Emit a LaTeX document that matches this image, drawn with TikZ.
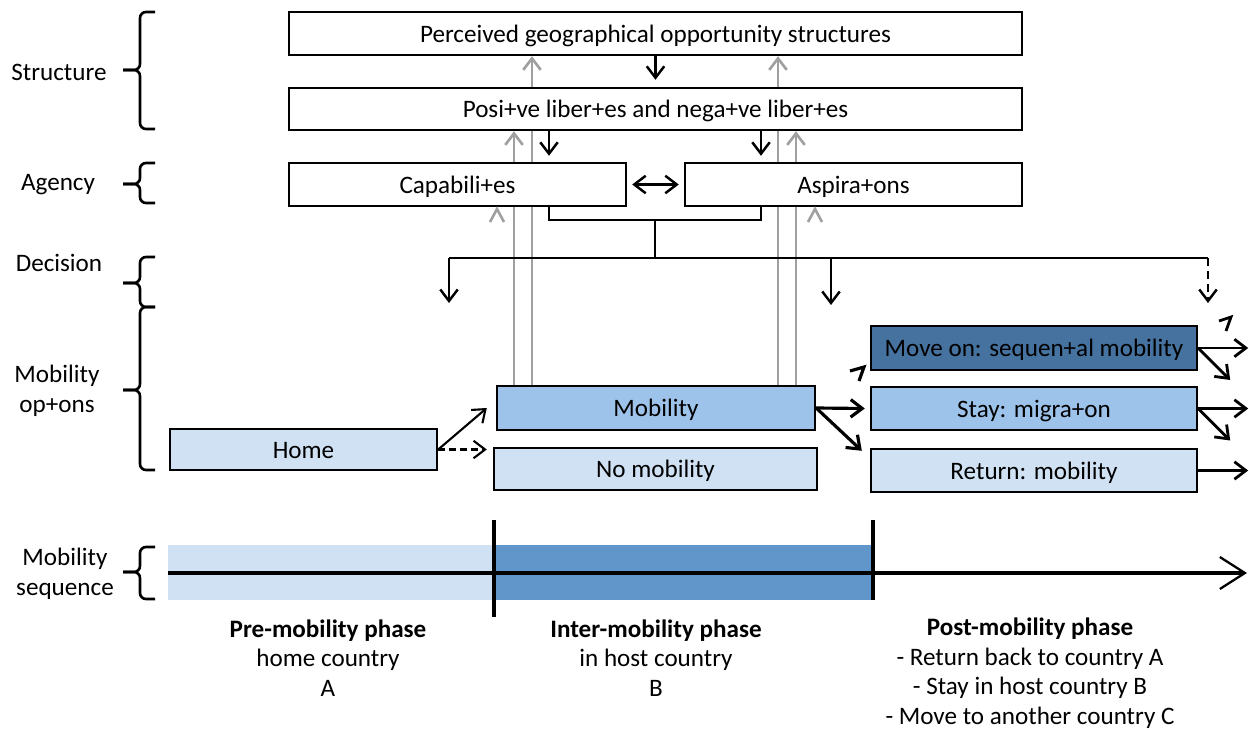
\documentclass[tikz,border=0pt]{standalone}
\usepackage{fontspec}
\setmainfont{Carlito}
\usetikzlibrary{arrows.meta,calc,backgrounds}

\definecolor{paleblue}{HTML}{D0E1F3}
\definecolor{midblue}{HTML}{9DC3EA}
\definecolor{deepblue}{HTML}{45729F}
\definecolor{barblue}{HTML}{6096C9}
\definecolor{greyline}{HTML}{A0A0A0}

\begin{document}
\begin{tikzpicture}
        [%%%%%%%%%%%%%%%%%%%%%%%%%%%%%%
            x=0.02cm, y=-0.02cm,
            font=\fontsize{14.3}{16.8}\selectfont,
            >={Straight Barb[length=2.3mm,width=3.5mm]},
            box/.style={draw=black, line width=1.4pt, fill=white, inner sep=0pt, minimum height=0.86cm, text height=10pt, text depth=0pt},
            link/.style={line width=1.4pt, ->},
            back/.style={draw=greyline, line width=1.5pt, ->},
            brc/.style={line width=1.5pt, rounded corners=0.12cm},
        ]%%%%%%%%%%%%%%%%%%%%%%%%%%%%%%

        \useasboundingbox (0,0) rectangle (1249,730);

        % left hand labels and their braces
        \node (lstruct) at (59,72) {Structure};
        \node (lagency) at (58,185) {Agency};
        \node (ldecision) at (59,263) {Decision};
        \node[align=center] (loptions) at (57,391) {Mobility\\op+ons};
        \node[align=center] (lsequence) at (65,574) {Mobility\\sequence};
        \foreach \ya/\ym/\yb in {12/70/129, 163/184/203, 257/283/307, 307/390/470, 547/572/599}{
            \draw[brc] (155,\ya) -- (140,\ya) -- (140,\ym) -- (123,\ym);
            \draw[brc] (155,\yb) -- (140,\yb) -- (140,\ym) -- (123,\ym);
        }

        % structure and agency
        \node[box, minimum width=14.66cm] (percv) at (655.5,33.5) {Perceived geographical opportunity structures};
        \node[box, minimum width=14.66cm, minimum height=0.84cm] (libs) at (655.5,109) {Posi+ve liber+es and nega+ve liber+es};
        \node[box, minimum width=6.74cm] (capab) at (457.5,184.5) {Capabili+es};
        \node[box, minimum width=6.74cm] (aspir) at (853.5,184.5) {Aspira+ons};

        % mobility options
        \node[box, fill=paleblue, minimum width=5.34cm, minimum height=0.82cm] (home) at (303.5,449.5) {Home};
        \node[box, fill=midblue, minimum width=6.36cm, minimum height=0.88cm] (mob) at (656,408) {Mobility};
        \node[box, fill=paleblue, minimum width=6.46cm, minimum height=0.84cm] (nomob) at (655.5,469) {No mobility};
        \node[box, fill=deepblue, minimum width=6.52cm, minimum height=0.88cm] (moveon) at (1034,348) {Move on: sequen+al mobility};
        \node[box, fill=midblue, minimum width=6.52cm] (stay) at (1034,408.5) {Stay: migra+on};
        \node[box, fill=paleblue, minimum width=6.52cm] (ret) at (1034,470.5) {Return: mobility};

        % feedback from mobility, hidden behind the boxes
        \coordinate (ga) at (514,0);
        \coordinate (gb) at (532,0);
        \coordinate (gc) at (778,0);
        \coordinate (gd) at (796,0);
        \begin{scope}[on background layer]
            \draw[back] (ga |- mob.north) -- (ga |- libs.south);
            \draw[back] (gb |- mob.north) -- (gb |- percv.south);
            \draw[back] (gc |- mob.north) -- (gc |- percv.south);
            \draw[back] (gd |- mob.north) -- (gd |- libs.south);
        \end{scope}
        \draw[greyline, line width=1.5pt] (490,222) -- (497,209) -- (504,222);
        \draw[greyline, line width=1.5pt] (808,222) -- (815,209) -- (822,222);

        % structure -> agency
        \coordinate (cl) at (549,0);
        \coordinate (cr) at (761,0);
        \draw[link, shorten >=0.14cm] (percv.south) -- (libs.north);
        \draw[link, shorten >=0.12cm] (cl |- libs.south) -- (cl |- capab.north);
        \draw[link, shorten >=0.12cm] (cr |- libs.south) -- (cr |- aspir.north);
        \draw[link, <->, shorten <=0.1cm, shorten >=0.1cm] (capab) -- (aspir);

        % decision
        \coordinate (jn) at (655,220);
        \coordinate (dec) at (655,258);
        \coordinate (dl) at (449,258);
        \coordinate (dm) at (831,258);
        \coordinate (dr) at (1208,258);
        \coordinate (ol) at (449,303);
        \coordinate (om) at (831,305);
        \coordinate (or) at (1208,303);
        \draw[line width=1.4pt] (cl |- capab.south) |- (jn) -| (cr |- aspir.south);
        \draw[line width=1.4pt] (jn) -- (dec);
        \draw[line width=1.4pt] (dl) -- (dr);
        \draw[link] (dl) -- (ol);
        \draw[link] (dm) -- (om);
        \draw[link, dash pattern=on 0.16cm off 0.1cm] (dr) -- (or);

        % options
        \draw[link, line width=1.2pt] (home.east) -- ($(mob.west)+(-9,0)$);
        \draw[link, line width=1.2pt, dash pattern=on 0.14cm off 0.08cm] (home.east) -- ($(home.east -| nomob.west)+(-6,0)$);
        \draw[link, line width=1.8pt] (mob.east) -- ($(stay.west)+(-5,0)$);
        \draw[link, line width=1.8pt] (mob.east) -- ($(ret.north west)+(-8,3)$);
        \draw[line width=1.8pt] (850,371) -- (864,367) -- (859,381);
        \foreach \b in {moveon,stay,ret}{
            \coordinate (\b out) at ($(\b.east)+(50,0)$);
            \draw[link, line width=1.6pt] (\b.east) -- (\b out);
        }
        \coordinate (moveondn) at ($(moveon.east)+(32,32)$);
        \coordinate (staydn) at ($(stay.east)+(32,32)$);
        \draw[link, line width=1.6pt] (moveon.east) -- (moveondn);
        \draw[link, line width=1.6pt] (stay.east) -- (staydn);
        \draw[line width=1.6pt] (1219,321) -- (1231,317) -- (1226,331);

        % mobility sequence
        \fill[paleblue] (168,545) rectangle (494,600);
        \fill[barblue] (494,545) rectangle (873,600);
        \coordinate (t0) at (168,573);
        \coordinate (t1) at (1247,573);
        \draw[line width=2pt, -{Straight Barb[length=5mm,width=6.4mm,line width=1.3pt]}] (t0) -- (t1);
        \draw[line width=2pt] (494,520) -- (494,617);
        \draw[line width=2pt] (873,520) -- (873,600);

        \node[align=center] (pre) at (328,658) {\textbf{Pre-mobility phase}\\home country\\A};
        \node[align=center] (inter) at (656,658) {\textbf{Inter-mobility phase}\\in host country\\B};
        \node[align=center] (post) at (1030,673) {\textbf{Post-mobility phase}\\- Return back to country A\\- Stay in host country B\\- Move to another country C};
    \end{tikzpicture}
\end{document}
